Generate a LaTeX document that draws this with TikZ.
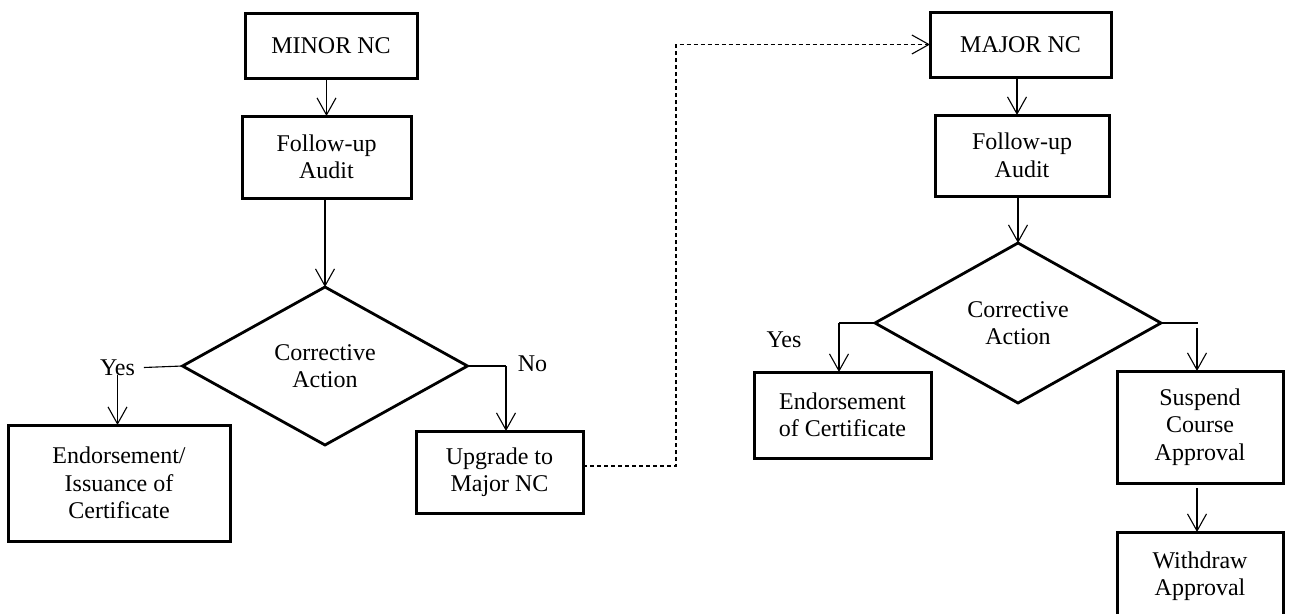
\documentclass[tikz,border=0pt]{standalone}
\usepackage{fontspec}
\setmainfont{Liberation Serif}
\usetikzlibrary{arrows.meta,shapes.geometric,calc}
\begin{document}
\begin{tikzpicture}[x=1pt,y=-1pt,
  every node/.style={font=\fontsize{24}{27.5}\selectfont, inner sep=0pt, outer sep=0pt},
  box/.style={draw, line width=3pt, align=center, rectangle},
  decision/.style={draw, line width=2.8pt, diamond, align=center},
  arr/.style={line width=1.1pt, -{Straight Barb[length=17pt,width=19pt,line width=1.1pt]}},
  link/.style={line width=1.1pt},
  dashlink/.style={line width=1.4pt, dash pattern=on 4pt off 3pt}
]
\useasboundingbox (0,0) rectangle (1290,613);

% left flow
\node[box, minimum width=172pt, minimum height=65pt] (minor) at (331,45.5) {MINOR NC};
\node[box, minimum width=169pt, minimum height=82pt] (fu1) at (326.5,157) {Follow-up\\Audit};
\node[decision, minimum width=285pt, minimum height=158pt] (d1) at (325,366) {Corrective\\Action};
\node (yes1) at (117.5,367.5) {Yes};
\node[box, minimum width=222pt, minimum height=116pt] (endo1) at (119,483) {Endorsement/\\Issuance of\\Certificate};
\coordinate (c1) at (506,366);
\node (no1) at (532.5,364) {No};
\node[box, minimum width=167pt, minimum height=82pt] (upg) at (499.5,472) {Upgrade to\\Major NC};

% right flow
\node[box, minimum width=181pt, minimum height=65pt] (major) at (1020.5,44.5) {MAJOR NC};
\node[box, minimum width=174pt, minimum height=81pt] (fu2) at (1022,155.5) {Follow-up\\Audit};
\node[decision, minimum width=286pt, minimum height=160pt] (d2) at (1018,323) {Corrective\\Action};
\node (yes2) at (784,339.5) {Yes};
\coordinate (c2) at (839,323);
\node[box, minimum width=177pt, minimum height=86pt] (endo2) at (842.5,415) {Endorsement\\of Certificate};
\coordinate (c3) at (1198,323);
\coordinate (c4) at (1197,328);
\node[box, minimum width=166pt, minimum height=112pt] (susp) at (1200,427) {Suspend\\Course\\Approval};
\node[box, minimum width=166pt, minimum height=88pt] (wd) at (1200,576) {Withdraw\\Approval};

% connectors left
\draw[arr] (minor.south -| fu1.north) -- (fu1.north);
\draw[arr] (fu1.south -| d1.north) -- (d1.north);
\draw[link] (d1.west) -- ($(yes1.east)+(9,0)$);
\draw[arr] (yes1.south) -- (yes1.south |- endo1.north);
\draw[link] (d1.east) -- (c1);
\draw[arr] (c1) -- (c1 |- upg.north);
\draw[dashlink, -{Straight Barb[length=17pt,width=19pt,line width=1.1pt]}]
  ($(upg.east)+(0,-6)$) -- ++(93,0) |- (major.west);

% connectors right
\draw[arr] (major.south -| 1017,0) -- (fu2.north -| 1017,0);
\draw[arr] (fu2.south -| d2.north) -- (d2.north);
\draw[link] (d2.west) -- (c2);
\draw[arr] (c2) -- (c2 |- endo2.north);
\draw[link] (d2.east) -- (c3);
\draw[arr] (c4) -- (c4 |- susp.north);
\draw[arr] ($(susp.south)+(-3,5)$) -- ($(wd.north)+(-3,0)$);
\end{tikzpicture}
\end{document}
